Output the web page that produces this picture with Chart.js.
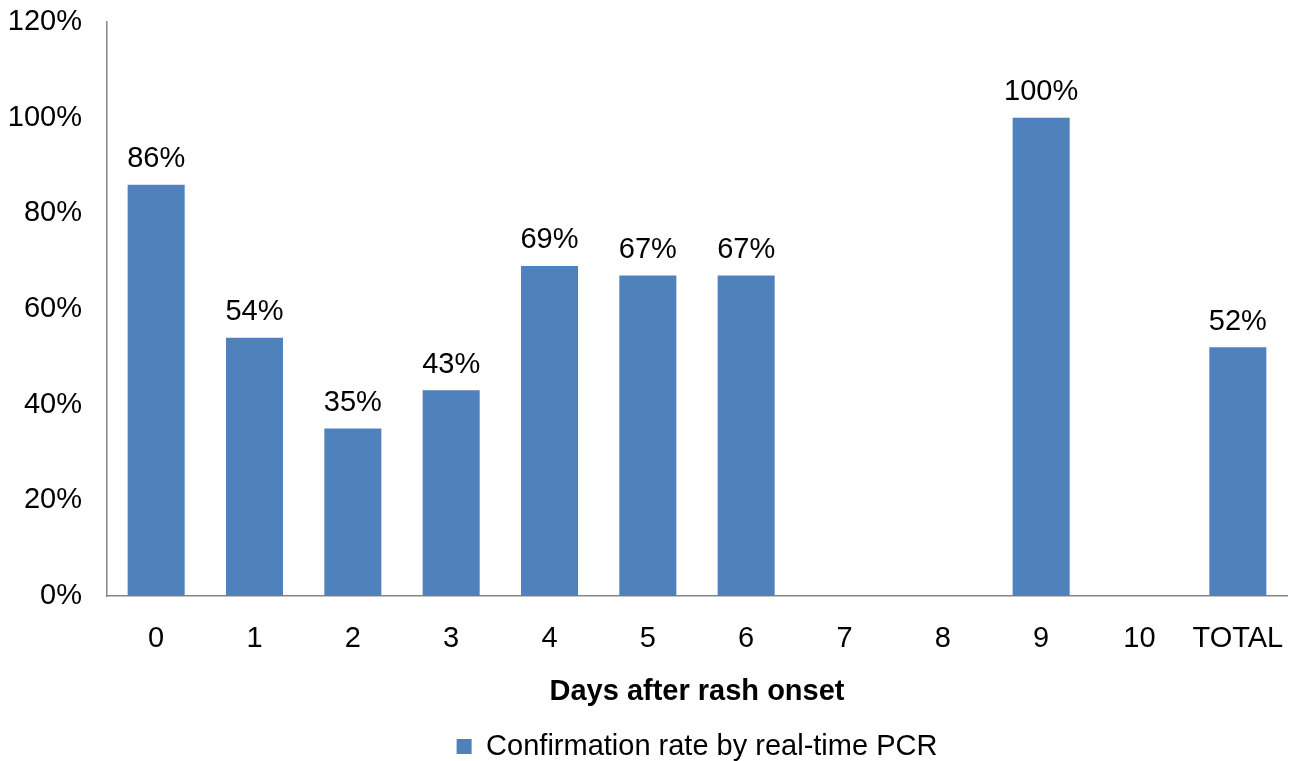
<!DOCTYPE html>
<html>
<head>
<meta charset="utf-8">
<script src="https://cdn.jsdelivr.net/npm/chart.js@4/dist/chart.umd.min.js"></script>
<style>
  body { margin: 0; background: #fff; }
  canvas { display: block; }
</style>
</head>
<body>
<canvas id="rateChart" width="1290" height="761"></canvas>
<script>
// Days after rash onset --> confirmation rate (%)
const days = ['0', '1', '2', '3', '4', '5', '6', '7', '8', '9', '10', 'TOTAL']
const rates = [86, 54, 35, 43, 69, 67, 67, null, null, 100, null, 52]
const yTicks = [0, 20, 40, 60, 80, 100, 120]

const FONT = 'Liberation Sans, Arial, sans-serif'
Chart.defaults.font.family = FONT
Chart.defaults.color = '#000'

// value labels above each bar
const barLabels = {
    id: 'barLabels',
    afterDatasetsDraw(chart) {
        const ctx = chart.ctx
        const meta = chart.getDatasetMeta(0)
        ctx.save()
        ctx.font = '29px ' + FONT
        ctx.fillStyle = '#000'
        ctx.textAlign = 'center'
        ctx.textBaseline = 'bottom'
        meta.data.forEach((bar, i) => {
            const v = rates[i]
            if (v == null) return
            ctx.fillText(v + '%', bar.x, bar.y - 11)
        })
        ctx.restore()
    }
}

const rateData = {
    labels: days,
    datasets: [{
        label: 'Confirmation rate by real-time PCR',
        data: rates,
        backgroundColor: '#4F81BD',
        borderWidth: 0,
        barPercentage: 0.58,
        categoryPercentage: 1.0
    }]
}

const rateConfig = {
    type: 'bar',
    data: rateData,
    plugins: [barLabels],
    options: {
        responsive: false,
        animation: false,
        layout: {
            padding: { left: 0, right: 3, top: 22, bottom: -10 }
        },
        plugins: {
            tooltip: { enabled: false },
            legend: {
                position: 'bottom',
                fullSize: false,
                labels: {
                    boxWidth: 15,
                    boxHeight: 15,
                    padding: 2,
                    font: { size: 29, lineHeight: 1.0 }
                }
            }
        },
        scales: {
            y: {
                min: 0,
                max: 120,
                afterBuildTicks(scale) {
                    scale.ticks = yTicks.map(v => ({ value: v }))
                },
                afterFit(scale) {
                    scale.width = 107
                    scale.paddingTop = 0
                    scale.paddingBottom = 0
                },
                grid: { display: false, drawTicks: false },
                border: { display: true, color: '#868686', width: 1.5 },
                ticks: {
                    padding: 25,
                    font: { size: 29 },
                    callback: v => v + '%'
                }
            },
            x: {
                afterFit(scale) {
                    scale.height = 134
                    scale.paddingLeft = 0
                    scale.paddingRight = 0
                },
                grid: { display: false, drawTicks: false },
                border: { display: true, color: '#868686', width: 1.5 },
                ticks: {
                    padding: 26,
                    maxRotation: 0,
                    autoSkip: false,
                    font: { size: 29 }
                },
                title: {
                    display: true,
                    text: 'Days after rash onset',
                    font: { size: 29, weight: 'bold' },
                    padding: { top: 10, bottom: 21 }
                }
            }
        }
    }
}

var rateChart = new Chart(document.getElementById('rateChart'), rateConfig)
</script>
</body>
</html>
